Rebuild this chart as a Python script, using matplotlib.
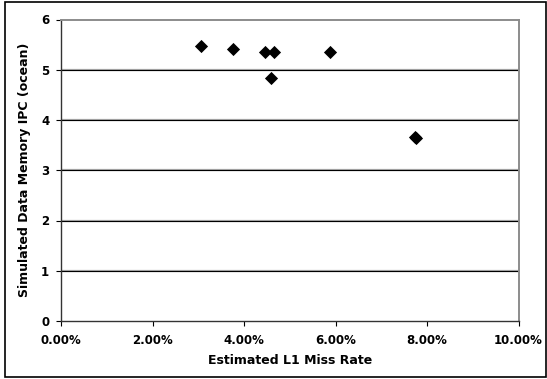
import matplotlib
matplotlib.use("Agg")
import matplotlib.pyplot as plt
from matplotlib.ticker import FuncFormatter
from matplotlib.patches import Rectangle

miss_rate = [3.05, 3.76, 4.46, 4.65, 4.59, 5.87, 7.74, 7.77]
ipc = [5.48, 5.42, 5.36, 5.36, 4.83, 5.36, 3.66, 3.64]
xticks = [0, 2, 4, 6, 8, 10]
yticks = [0, 1, 2, 3, 4, 5, 6]

plt.rcParams['font.family'] = 'DejaVu Sans'
plt.rcParams['font.weight'] = 'bold'

W, H = 547, 379
fig = plt.figure(figsize=(W / 100, H / 100), dpi=100)
ax = fig.add_axes([61 / W, 1 - 321 / H, (518.5 - 61) / W, (321 - 19.5) / H])

for y in yticks[1:-1]:
    ax.axhline(y, color='#aaaaaa', lw=1.6, zorder=1)
    ax.axhline(y, color='black', lw=0.8, zorder=1)

ax.scatter(miss_rate, ipc, marker='D', s=45, color='black', zorder=3, linewidths=0)

ax.set_xlim(0, 10)
ax.set_ylim(0, 6)
ax.set_xticks(xticks)
ax.set_yticks(yticks)
ax.xaxis.set_major_formatter(FuncFormatter(lambda v, p: '%.2f%%' % v))
ax.tick_params(labelsize=8.5, length=3.5, width=0.8, colors='black', pad=5)
ax.tick_params(axis='x', pad=6)
for s in ['top', 'right']:
    ax.spines[s].set_color('#8c8c8c')
    ax.spines[s].set_linewidth(1.4)
for s in ['left', 'bottom']:
    ax.spines[s].set_color('#333333')
    ax.spines[s].set_linewidth(1.0)

ax.set_xlabel('Estimated L1 Miss Rate', fontsize=9, fontweight='bold', va='center')
ax.xaxis.set_label_coords(0.5, (321 - 361) / (321 - 19.5))
ax.set_ylabel('Simulated Data Memory IPC (ocean)', fontsize=9, fontweight='bold', va='center')
ax.yaxis.set_label_coords((25 - 61) / (518.5 - 61), 0.5)

fig.patches.append(Rectangle((4.5 / W, 2 / H), 541 / W, 375 / H, transform=fig.transFigure,
                             fill=False, edgecolor='black', lw=1.2))

fig.savefig('out.png', dpi=100)
